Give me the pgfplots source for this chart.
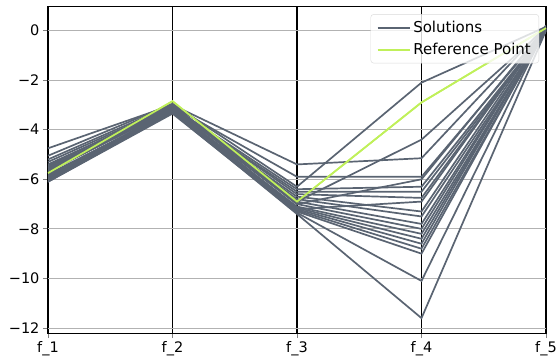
\documentclass[border=0pt]{standalone}
\usepackage{fontspec}
\setmainfont{DejaVu Sans}
\usepackage{pgfplots}
\pgfplotsset{compat=1.18}
\usetikzlibrary{calc}
\definecolor{sol}{RGB}{90,100,114}
\definecolor{refc}{RGB}{192,240,90}
\begin{document}
\begin{tikzpicture}
\begin{axis}[
  name=ax,
  scale only axis,
  width=498pt, height=326pt,
  xmin=0, xmax=4, ymin=-12.2, ymax=0.95,
  xtick={0,1,2,3,4},
  xticklabels={f\_1,f\_2,f\_3,f\_4,f\_5},
  ytick={-12,-10,-8,-6,-4,-2,0},
  yticklabels={−12,−10,−8,−6,−4,−2,0},
  tick label style={font=\fontsize{14.5}{17}\selectfont},
  tick align=outside, tick pos=left,
  major tick length=5pt,
  major tick style={line width=0.9pt},
  xmajorgrids, ymajorgrids,
  x grid style={black, line width=1.2pt},
  y grid style={black!30, line width=1pt},
  axis line style={black, line width=1pt},
  legend style={at={(0.986,0.978)}, anchor=north east, draw=black!15, rounded corners=3pt,
    fill=white, fill opacity=0.8, text opacity=1, draw opacity=1, font=\fontsize{15}{17}\selectfont,
    row sep=5pt, inner xsep=6pt, inner ysep=5pt},
  legend cell align=left,
  legend image code/.code={\draw[#1, line width=1.8pt, opacity=1] (0cm,0cm) -- (1.15cm,0cm);},
  every axis plot/.append style={line width=1.7pt},
  clip=true,
]
\addplot[sol] coordinates {(0,-4.75) (1,-3.0) (2,-5.4) (3,-5.15) (4,0.2)};
\addlegendentry{Solutions}
\addplot[refc] coordinates {(0,-5.75) (1,-2.85) (2,-6.9) (3,-2.9) (4,0.1)};
\addlegendentry{Reference Point}
\pgfplotsset{every axis plot/.append style={forget plot}}
\addplot[sol] coordinates {(0,-5.05) (1,-2.95) (2,-6.3) (3,-2.1) (4,0.15)};
\addplot[sol] coordinates {(0,-5.2) (1,-3.0) (2,-6.9) (3,-4.4) (4,0.1)};
\addplot[sol] coordinates {(0,-5.3) (1,-3.05) (2,-5.9) (3,-5.9) (4,0.05)};
\addplot[sol] coordinates {(0,-5.4) (1,-3.1) (2,-6.4) (3,-6.3) (4,0.0)};
\addplot[sol] coordinates {(0,-5.5) (1,-3.15) (2,-6.5) (3,-6.5) (4,0.0)};
\addplot[sol] coordinates {(0,-5.6) (1,-3.1) (2,-6.6) (3,-6.75) (4,0.05)};
\addplot[sol] coordinates {(0,-5.65) (1,-3.2) (2,-6.7) (3,-7.3) (4,0.1)};
\addplot[sol] coordinates {(0,-5.7) (1,-3.15) (2,-6.8) (3,-7.5) (4,0.0)};
\addplot[sol] coordinates {(0,-5.8) (1,-3.25) (2,-6.9) (3,-7.8) (4,0.05)};
\addplot[sol] coordinates {(0,-5.85) (1,-3.2) (2,-7.0) (3,-8.0) (4,0.1)};
\addplot[sol] coordinates {(0,-5.9) (1,-3.3) (2,-7.1) (3,-8.2) (4,0.0)};
\addplot[sol] coordinates {(0,-5.95) (1,-3.2) (2,-7.15) (3,-8.4) (4,0.05)};
\addplot[sol] coordinates {(0,-6.0) (1,-3.25) (2,-7.2) (3,-8.6) (4,0.1)};
\addplot[sol] coordinates {(0,-6.0) (1,-3.3) (2,-7.25) (3,-8.8) (4,0.0)};
\addplot[sol] coordinates {(0,-6.05) (1,-3.3) (2,-7.3) (3,-9.0) (4,0.05)};
\addplot[sol] coordinates {(0,-6.1) (1,-3.35) (2,-7.35) (3,-10.1) (4,0.1)};
\addplot[sol] coordinates {(0,-6.1) (1,-3.3) (2,-7.4) (3,-11.6) (4,0.0)};
\addplot[sol] coordinates {(0,-5.45) (1,-3.05) (2,-7.0) (3,-6.0) (4,0.15)};
\addplot[sol] coordinates {(0,-5.55) (1,-3.15) (2,-7.2) (3,-6.9) (4,0.1)};
\addplot[refc] coordinates {(0,-5.75) (1,-2.85) (2,-6.9) (3,-2.9) (4,0.1)};
\end{axis}
\pgfresetboundingbox
\path ($(ax.south west)+(-48pt,-28pt)$) rectangle ($(ax.north east)+(13pt,7pt)$);
\end{tikzpicture}
\end{document}
